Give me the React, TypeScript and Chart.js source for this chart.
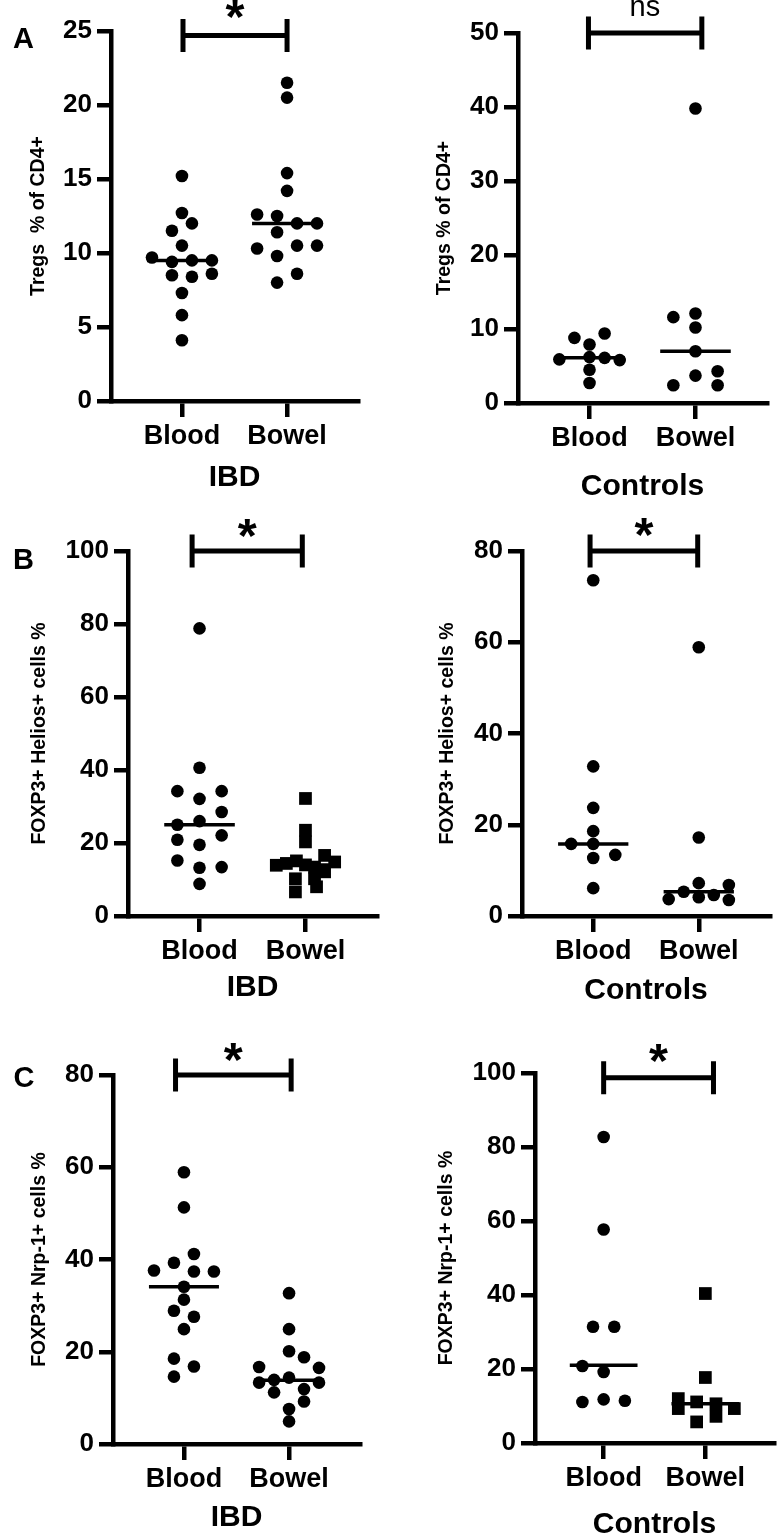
import React, { useEffect, useRef } from "react";
import { Chart, registerables } from "chart.js";

Chart.register(...registerables);

// ---------- data ----------
const categories = ["Blood", "Bowel"];

// A: Tregs % of CD4+
const tregsIbdBlood = [15.2, 12.7, 12.0, 11.5, 10.5, 9.7, 9.4, 9.5, 9.5, 8.5, 8.4, 8.6, 7.3, 5.8, 4.1];
const tregsIbdBloodSlot = [0, 0, 1, -1, 0, -3, -1, 1, 3, -1, 1, 3, 0, 0, 0];
const tregsIbdBowel = [21.5, 20.5, 15.4, 14.2, 12.6, 12.5, 12.0, 12.0, 11.4, 10.3, 10.5, 10.5, 9.8, 8.6, 8.0];
const tregsIbdBowelSlot = [0, 0, 0, 0, -3, -1, 1, 3, -1, -3, 1, 3, -1, 1, -1];
const tregsIbdMedians = [9.5, 12.0];

const tregsCtlBlood = [9.4, 8.8, 7.9, 6.2, 6.1, 5.9, 5.8, 4.5, 2.7];
const tregsCtlBloodSlot = [1.5, -1.5, 0, 0, 1.5, -3, 3, 0, 0];
const tregsCtlBowel = [39.8, 12.1, 11.6, 10.2, 7.0, 4.3, 3.7, 2.4, 2.4];
const tregsCtlBowelSlot = [0, 0, -2.2, 0, 0, 2.2, 0, -2.2, 2.2];
const tregsCtlMedians = [6.1, 7.0];

// B: FOXP3+ Helios+ cells %
const heliosIbdBlood = [78.8, 40.6, 34.2, 34.2, 32.1, 28.5, 26.0, 25.0, 22.1, 20.9, 19.5, 15.2, 13.2, 13.4, 8.8];
const heliosIbdBloodSlot = [0, 0, -2.2, 2.2, 0, 2.2, 0, -2.2, 2.2, -2.2, 0, -2.2, 0, 2.2, 0];
const heliosIbdBowel = [32.2, 23.5, 20.3, 13.9, 14.4, 15.1, 13.4, 16.6, 14.8, 10.2, 6.6, 8.0, 12.1, 10.2, 14.0];
const heliosIbdBowelSlot = [0, 0, 0, -2.9, -1.9, -0.9, 0.9, 1.9, 2.9, -1, -1, 1.1, 1.9, 0.9, 0];
const heliosIbdMedians = [25.0, 14.0];

const heliosCtlBlood = [73.6, 32.8, 23.7, 18.6, 15.8, 15.8, 12.7, 13.4, 6.1];
const heliosCtlBloodSlot = [0, 0, 0, 0, -2.2, 0, 0, 2.2, 0];
const heliosCtlBowel = [58.9, 17.2, 7.2, 6.8, 5.3, 4.6, 4.1, 3.7, 3.5];
const heliosCtlBowelSlot = [0, 0, 0, 3, -1.5, 1.5, 0, -3, 3];
const heliosCtlMedians = [15.8, 5.3];

// C: FOXP3+ Nrp-1+ cells %
const nrpIbdBlood = [58.9, 51.3, 41.2, 39.3, 37.6, 37.4, 37.4, 34.1, 31.3, 28.9, 27.6, 24.9, 18.5, 16.8, 14.6];
const nrpIbdBloodSlot = [0, 0, 1, -1, -3, 1, 3, 0, 0, -1, 1, 0, -1, 1, -1];
const nrpIbdBowel = [32.7, 24.9, 20.1, 18.8, 16.7, 16.5, 13.9, 14.4, 13.3, 13.3, 11.2, 11.9, 9.2, 7.6, 4.9];
const nrpIbdBowelSlot = [0, 0, 0, 1.5, -3, 3, -1.5, 0, -3, 3, -1.5, 1.5, 1.5, 0, 0];
const nrpIbdMedians = [34.1, 13.8];

const nrpCtlBlood = [82.7, 57.7, 31.4, 31.4, 20.8, 19.2, 11.1, 11.8, 11.4];
const nrpCtlBloodSlot = [0, 0, -1.1, 1.1, -2.2, 0, -2.2, 0, 2.2];
const nrpCtlBowel = [40.4, 17.7, 12.0, 9.3, 11.1, 10.6, 9.3, 5.7, 7.2];
const nrpCtlBowelSlot = [0, 0, -2.8, -2.8, -0.9, 1.1, 3, -0.9, 1.1];
const nrpCtlMedians = [21.0, 10.6];

// tick labels
const ticks25 = [0, 5, 10, 15, 20, 25];
const ticks50 = [0, 10, 20, 30, 40, 50];
const ticks80 = [0, 20, 40, 60, 80];
const ticks100 = [0, 20, 40, 60, 80, 100];

// ---------- layout ----------
const SLOT = 0.095;
const XMIN = 0.325;
const XMAX = 2.675;
const MED_HALF = 0.333;
const FONT = "'Liberation Sans', Arial, sans-serif";

type Panel = {
  key: string;
  canvas: [number, number, number, number];
  area: [number, number, number, number];
  yTicks: number[];
  yTitle: string;
  yTitleDx: number;
  group: string;
  groupDy: number;
  sig: string;
  sigValue: number;
  sigEnds: [number, number];
  sigDy: number;
  letter?: string;
  letterPos?: [number, number];
  blood: number[];
  bloodSlot: number[];
  bowel: number[];
  bowelSlot: number[];
  medians: number[];
  bowelSquare: boolean;
};

const panels: Panel[] = [
  {
    key: "A1", canvas: [0, 0, 392, 505], area: [111, 31, 358, 401],
    yTicks: ticks25, yTitle: "Tregs  % of CD4+", yTitleDx: 72, group: "IBD", groupDy: 77,
    sig: "*", sigValue: 24.7, sigEnds: [1.01, 2.0], sigDy: 26, letter: "A", letterPos: [13, 46],
    blood: tregsIbdBlood, bloodSlot: tregsIbdBloodSlot, bowel: tregsIbdBowel, bowelSlot: tregsIbdBowelSlot,
    medians: tregsIbdMedians, bowelSquare: false,
  },
  {
    key: "A2", canvas: [392, 0, 391, 505], area: [518, 33, 767, 403],
    yTicks: ticks50, yTitle: "Tregs % of CD4+", yTitleDx: 73, group: "Controls", groupDy: 84,
    sig: "ns", sigValue: 50, sigEnds: [0.99, 2.06], sigDy: 25,
    blood: tregsCtlBlood, bloodSlot: tregsCtlBloodSlot, bowel: tregsCtlBowel, bowelSlot: tregsCtlBowelSlot,
    medians: tregsCtlMedians, bowelSquare: false,
  },
  {
    key: "B1", canvas: [0, 505, 392, 505], area: [128, 551, 377, 916],
    yTicks: ticks100, yTitle: "FOXP3+ Helios+ cells %", yTitleDx: 88, group: "IBD", groupDy: 72,
    sig: "*", sigValue: 100, sigEnds: [0.93, 1.97], sigDy: 23, letter: "B", letterPos: [13, 567],
    blood: heliosIbdBlood, bloodSlot: heliosIbdBloodSlot, bowel: heliosIbdBowel, bowelSlot: heliosIbdBowelSlot,
    medians: heliosIbdMedians, bowelSquare: true,
  },
  {
    key: "B2", canvas: [392, 505, 391, 505], area: [522, 551, 770, 916],
    yTicks: ticks80, yTitle: "FOXP3+ Helios+ cells %", yTitleDx: 74, group: "Controls", groupDy: 75,
    sig: "*", sigValue: 80, sigEnds: [0.97, 1.99], sigDy: 24,
    blood: heliosCtlBlood, bloodSlot: heliosCtlBloodSlot, bowel: heliosCtlBowel, bowelSlot: heliosCtlBowelSlot,
    medians: heliosCtlMedians, bowelSquare: false,
  },
  {
    key: "C1", canvas: [0, 1010, 392, 528], area: [113, 1075, 360, 1444],
    yTicks: ticks80, yTitle: "FOXP3+ Nrp-1+ cells %", yTitleDx: 73, group: "IBD", groupDy: 74,
    sig: "*", sigValue: 80, sigEnds: [0.92, 2.02], sigDy: 23, letter: "C", letterPos: [14, 1085],
    blood: nrpIbdBlood, bloodSlot: nrpIbdBloodSlot, bowel: nrpIbdBowel, bowelSlot: nrpIbdBowelSlot,
    medians: nrpIbdMedians, bowelSquare: false,
  },
  {
    key: "C2", canvas: [392, 1010, 391, 528], area: [535, 1073, 782, 1443],
    yTicks: ticks100, yTitle: "FOXP3+ Nrp-1+ cells %", yTitleDx: 88, group: "Controls", groupDy: 82,
    sig: "*", sigValue: 98.7, sigEnds: [1.0, 2.08], sigDy: 25,
    blood: nrpCtlBlood, bloodSlot: nrpCtlBloodSlot, bowel: nrpCtlBowel, bowelSlot: nrpCtlBowelSlot,
    medians: nrpCtlMedians, bowelSquare: true,
  },
];

function drawCentered(ctx: CanvasRenderingContext2D, text: string, cx: number, cy: number) {
  const m = ctx.measureText(text);
  const left = m.actualBoundingBoxLeft;
  const right = m.actualBoundingBoxRight;
  const asc = m.actualBoundingBoxAscent;
  const desc = m.actualBoundingBoxDescent;
  ctx.textAlign = "left";
  ctx.textBaseline = "alphabetic";
  ctx.fillText(text, cx - (right - left) / 2, cy + (asc - desc) / 2);
}

const annotPlugin = {
  id: "annot",
  afterDraw(chart: any, _args: any, opts: any) {
    const p: Panel = opts.panel;
    if (!p) return;
    const { ctx, chartArea } = chart;
    const x = chart.scales.x;
    const y = chart.scales.y;
    ctx.save();
    ctx.fillStyle = "#000";
    ctx.strokeStyle = "#000";

    // significance bar
    const by = y.getPixelForValue(p.sigValue);
    const x1 = x.getPixelForValue(p.sigEnds[0]);
    const x2 = x.getPixelForValue(p.sigEnds[1]);
    ctx.lineWidth = 5;
    ctx.lineCap = "butt";
    ctx.beginPath();
    ctx.moveTo(x1, by);
    ctx.lineTo(x2, by);
    ctx.moveTo(x1, by - 16.5);
    ctx.lineTo(x1, by + 16.5);
    ctx.moveTo(x2, by - 16.5);
    ctx.lineTo(x2, by + 16.5);
    ctx.stroke();

    const sx = (x1 + x2) / 2;
    const sy = by - p.sigDy;
    if (p.sig === "*") {
      ctx.font = `bold 100px ${FONT}`;
      const m = ctx.measureText("*");
      const w100 = m.actualBoundingBoxLeft + m.actualBoundingBoxRight;
      const size = (100 * 19) / (w100 || 40);
      ctx.font = `bold ${size}px ${FONT}`;
      drawCentered(ctx, "*", sx, sy);
    } else {
      ctx.font = `29px ${FONT}`;
      drawCentered(ctx, p.sig, sx, sy);
    }

    // y-axis title
    ctx.font = `bold 19.5px ${FONT}`;
    ctx.save();
    ctx.translate(chartArea.left - p.yTitleDx, (chartArea.top + chartArea.bottom) / 2);
    ctx.rotate(-Math.PI / 2);
    ctx.textAlign = "center";
    ctx.textBaseline = "middle";
    ctx.fillText(p.yTitle, 0, 0);
    ctx.restore();

    // group label
    ctx.font = `bold 30px ${FONT}`;
    ctx.textAlign = "center";
    ctx.textBaseline = "middle";
    const gx = (x.getPixelForValue(1) + x.getPixelForValue(2)) / 2;
    ctx.fillText(p.group, gx, chartArea.bottom + p.groupDy);

    // panel letter
    if (p.letter && p.letterPos) {
      ctx.font = `bold 29px ${FONT}`;
      drawCentered(ctx, p.letter, p.letterPos[0] - p.canvas[0], p.letterPos[1] - p.canvas[1]);
    }
    ctx.restore();
  },
};

function PanelChart({ p }: { p: Panel }) {
  const ref = useRef<HTMLCanvasElement>(null);
  const [cl, ct, cw, ch] = p.canvas;
  useEffect(() => {
    const [al, at, ar, ab] = p.area;
    const yW = al - cl;
    const xH = ct + ch - ab;
    const toPts = (vals: number[], slots: number[], cat: number) =>
      vals.map((v, i) => ({ x: cat + slots[i] * SLOT, y: v }));
    const medLine = (cat: number, v: number) => [
      { x: cat - MED_HALF, y: v },
      { x: cat + MED_HALF, y: v },
    ];
    const chart = new Chart(ref.current as HTMLCanvasElement, {
      type: "scatter",
      data: {
        datasets: [
          {
            label: categories[0],
            data: toPts(p.blood, p.bloodSlot, 1),
            pointStyle: "circle",
            pointRadius: 6.3,
            backgroundColor: "#000",
            borderColor: "#000",
            borderWidth: 0,
            clip: false,
          } as any,
          {
            label: categories[1],
            data: toPts(p.bowel, p.bowelSlot, 2),
            pointStyle: p.bowelSquare ? "rect" : "circle",
            pointRadius: p.bowelSquare ? 9 : 6.3,
            backgroundColor: "#000",
            borderColor: "#000",
            borderWidth: 0,
            clip: false,
          } as any,
          {
            type: "line",
            label: "median " + categories[0],
            data: medLine(1, p.medians[0]),
            borderColor: "#000",
            borderWidth: 3.5,
            pointRadius: 0,
            fill: false,
            clip: false,
          } as any,
          {
            type: "line",
            label: "median " + categories[1],
            data: medLine(2, p.medians[1]),
            borderColor: "#000",
            borderWidth: 3.5,
            pointRadius: 0,
            fill: false,
            clip: false,
          } as any,
        ],
      },
      options: {
        animation: false,
        responsive: false,
        maintainAspectRatio: false,
        events: [],
        layout: { padding: { left: 0, top: at - ct, right: cl + cw - ar, bottom: 0 } },
        plugins: {
          legend: { display: false },
          tooltip: { enabled: false },
          title: { display: false },
          annot: { panel: p },
        } as any,
        scales: {
          x: {
            type: "linear",
            min: XMIN,
            max: XMAX,
            afterBuildTicks: (s: any) => {
              s.ticks = [{ value: 1 }, { value: 2 }];
            },
            afterFit: (s: any) => {
              s.height = xH;
              s.paddingLeft = 0;
              s.paddingRight = 0;
              s.paddingTop = 0;
              s.paddingBottom = 0;
            },
            ticks: {
              autoSkip: false,
              maxRotation: 0,
              minRotation: 0,
              padding: 3,
              color: "#000",
              font: { family: FONT, size: 27, weight: "bold", lineHeight: 1.2 },
              callback: (v: any) => categories[Math.round(Number(v)) - 1],
            },
            grid: { drawOnChartArea: false, drawTicks: true, tickLength: 16, lineWidth: 4.5, color: "#000" },
            border: { display: true, width: 4.5, color: "#000" },
          },
          y: {
            type: "linear",
            min: p.yTicks[0],
            max: p.yTicks[p.yTicks.length - 1],
            afterBuildTicks: (s: any) => {
              s.ticks = p.yTicks.map((v) => ({ value: v }));
            },
            afterFit: (s: any) => {
              s.width = yW;
              s.paddingLeft = 0;
              s.paddingRight = 0;
              s.paddingTop = 0;
              s.paddingBottom = 0;
            },
            ticks: {
              padding: 5,
              color: "#000",
              font: { family: FONT, size: 26, weight: "bold" },
            },
            grid: { drawOnChartArea: false, drawTicks: true, tickLength: 14, lineWidth: 4.5, color: "#000" },
            border: { display: true, width: 4.5, color: "#000" },
          },
        },
      } as any,
      plugins: [annotPlugin as any],
    });
    return () => chart.destroy();
  }, []);
  return (
    <canvas
      ref={ref}
      width={cw}
      height={ch}
      style={{ position: "absolute", left: cl, top: ct, width: cw, height: ch, display: "block" }}
    />
  );
}

export default function App() {
  return (
    <div style={{ position: "absolute", left: 0, top: 0, width: 783, height: 1538, background: "#fff", overflow: "hidden" }}>
      {panels.map((p) => (
        <PanelChart key={p.key} p={p} />
      ))}
    </div>
  );
}
